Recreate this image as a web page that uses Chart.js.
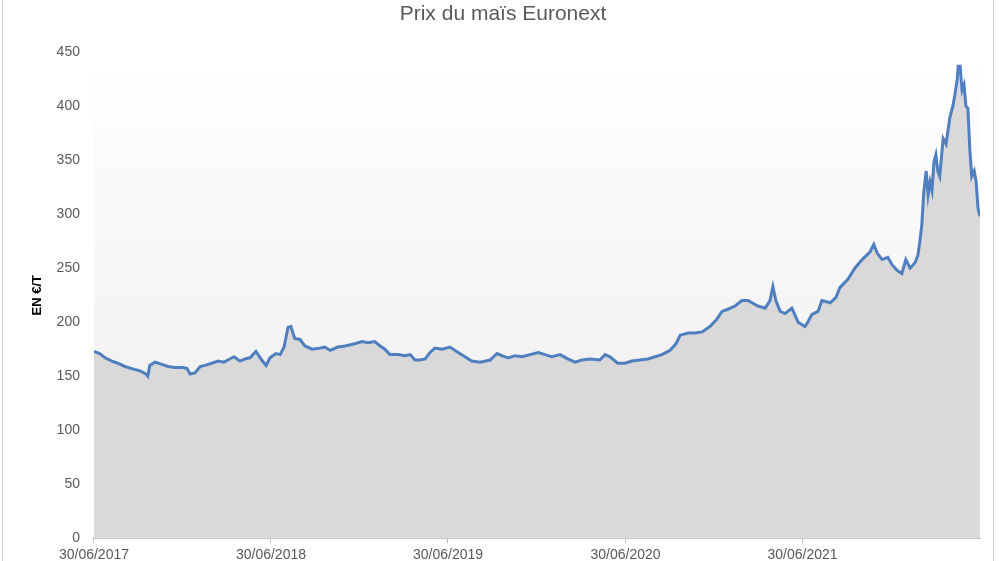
<!DOCTYPE html>
<html><head><meta charset="utf-8">
<script src="https://cdn.jsdelivr.net/npm/chart.js@4"></script>
<style>
html,body{margin:0;padding:0;background:#fff;overflow:hidden;}
#frame{position:absolute;left:2px;top:-2px;width:990px;height:570px;border:1px solid #d0d0d0;}
#wrap{position:absolute;left:0;top:0;width:1000px;height:568px;}
</style></head><body>
<div id="frame"></div>
<div id="wrap"><canvas id="c"></canvas></div>
<script>
const title = "Prix du maïs Euronext";
const yTitle = "EN €/T";
const startDate = "2017-06-30";
const tickDays = [0, 365, 730, 1096, 1461];
const days = [0,12,23,37,49,64,78,95,107,111,115,126,140,153,167,184,192,198,208,219,229,243,256,268,276,289,301,311,322,334,346,355,363,375,384,392,400,406,414,425,435,450,466,476,487,503,518,538,553,565,579,590,600,610,627,641,652,662,672,683,693,703,718,734,751,765,779,796,817,831,841,854,868,883,899,916,930,944,961,977,992,1006,1023,1043,1054,1064,1080,1095,1109,1126,1142,1157,1171,1188,1200,1209,1225,1239,1254,1270,1283,1295,1307,1322,1336,1349,1357,1369,1384,1394,1400,1406,1415,1425,1439,1452,1466,1472,1480,1493,1501,1518,1530,1538,1555,1569,1584,1600,1608,1615,1625,1637,1646,1656,1666,1674,1683,1693,1699,1703,1707,1711,1716,1720,1724,1728,1732,1736,1740,1744,1751,1757,1765,1771,1775,1780,1782,1786,1790,1794,1798,1802,1806,1810,1815,1819,1823,1827];
const prices = [173,171,167,164,162,159,157,155,152,150,160,163,161,159,158,158,157,152,153,159,160,162,164,163,165,168,164,166,167,173,165,160,167,171,170,177,195,196,185,184,178,175,176,177,174,177,178,180,182,181,182,178,175,170,170,169,170,165,165,166,172,176,175,177,172,168,164,163,165,171,169,167,169,168,170,172,170,168,170,166,163,165,166,165,170,168,162,162,164,165,166,168,170,174,180,188,190,190,191,196,202,210,212,215,220,220,218,215,213,220,233,220,210,208,213,200,196,200,207,210,220,218,223,232,240,250,258,265,272,264,258,260,253,248,245,258,250,255,262,275,290,320,340,318,330,322,348,355,340,335,370,365,390,400,410,425,437,437,415,420,400,398,360,335,340,330,305,298];
const yTicks = [0,50,100,150,200,250,300,350,400,450];

const pts = days.map((d,i)=>({x:d,y:prices[i]}));
const t0 = new Date(startDate+"T12:00:00Z");
function fmt(d){const dt=new Date(t0.getTime()+d*86400000);return String(dt.getUTCDate()).padStart(2,'0')+'/'+String(dt.getUTCMonth()+1).padStart(2,'0')+'/'+dt.getUTCFullYear();}

const bgPlugin={id:'bg',beforeDatasetsDraw(ch){const a=ch.chartArea,c=ch.ctx;const g=c.createLinearGradient(0,a.top,0,a.bottom);g.addColorStop(0,'#ffffff');g.addColorStop(1,'#ececec');c.save();c.fillStyle=g;c.fillRect(a.left,a.top,a.right-a.left,a.bottom-a.top);c.restore();}};

new Chart(document.getElementById('c'),{
 type:'line',
 data:{datasets:[{data:pts,borderColor:'#4f7fbf',borderWidth:3,pointRadius:0,tension:0,fill:'origin',backgroundColor:'#d9d9d9'}]},
 options:{responsive:true,maintainAspectRatio:false,animation:false,
  layout:{padding:{left:26,right:20,top:0,bottom:0}},
  plugins:{legend:{display:false},tooltip:{enabled:false},
   title:{display:true,text:title,color:'#595959',font:{family:'Liberation Sans',size:21,weight:'normal'},padding:{top:2,bottom:25}}},
  scales:{
   x:{type:'linear',min:0,max:1827,
    afterBuildTicks(s){s.ticks=tickDays.map(v=>({value:v}));},
    ticks:{callback:v=>fmt(v),color:'#595959',font:{family:'Liberation Sans',size:14},maxRotation:0,autoSkip:false,padding:4},
    grid:{display:true,drawOnChartArea:false,tickLength:5,color:'#bfbfbf'},border:{color:'#bfbfbf'}},
   y:{min:0,max:450,
    afterBuildTicks(s){s.ticks=yTicks.map(v=>({value:v}));},
    ticks:{color:'#595959',font:{family:'Liberation Sans',size:14},padding:6},
    grid:{display:false},border:{display:false},
    title:{display:true,text:yTitle,color:'#000',font:{family:'Liberation Sans',size:13,weight:'bold'},padding:{bottom:5}}}
  }},
 plugins:[bgPlugin]
});
</script></body></html>
